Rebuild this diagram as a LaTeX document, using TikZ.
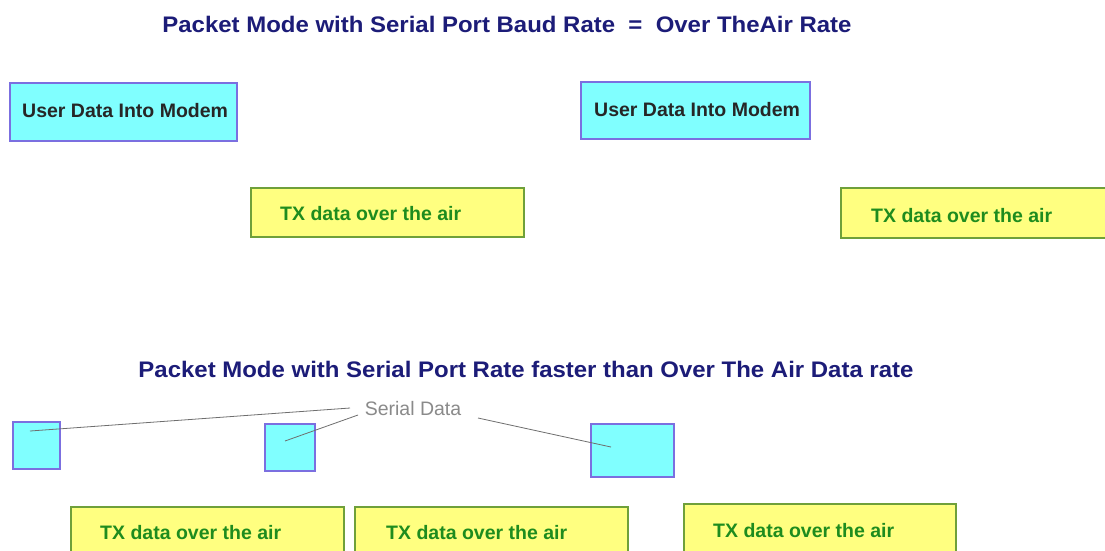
\documentclass[tikz,border=0pt]{standalone}
\usepackage{fontspec}
\setmainfont{Liberation Sans}
\definecolor{navy}{HTML}{1C1C78}
\definecolor{cyanfill}{HTML}{80FFFF}
\definecolor{cyanedge}{HTML}{7B6FE0}
\definecolor{yelfill}{HTML}{FFFF80}
\definecolor{yeledge}{HTML}{6FA03A}
\definecolor{txgreen}{HTML}{1E8C1E}
\definecolor{sergray}{HTML}{8A8A8A}
\begin{document}
\begin{tikzpicture}[x=1pt,y=-1pt,
  title/.style={font=\fontsize{22.5}{26}\selectfont\bfseries, text=navy, inner sep=0, xscale=1.065},
  userbox/.style={draw=cyanedge, fill=cyanfill, line width=1.2pt},
  txbox/.style={draw=yeledge, fill=yelfill, line width=1.2pt},
  usertext/.style={font=\fontsize{19.5}{22}\selectfont\bfseries, text=black!85, inner sep=0, anchor=west},
  txtext/.style={font=\fontsize{19.5}{22}\selectfont\bfseries, text=txgreen, inner sep=0, anchor=west},
  serline/.style={draw=sergray!80!black, line width=0.8pt}]
\useasboundingbox (0,0) rectangle (1105,550);
\fill[white] (0,0) rectangle (1105,550);
% top title
\node[title] (t1) at (507,24) {Packet Mode with Serial Port Baud Rate \ = \ Over TheAir Rate};
% top boxes
\draw[userbox] (10,83) rectangle (237,141);
\node[usertext] (u1) at (22,111) {User Data Into Modem};
\draw[userbox] (581,82) rectangle (810,139);
\node[usertext] (u2) at (594,110) {User Data Into Modem};
\draw[txbox] (251,188) rectangle (524,237);
\node[txtext] (x1) at (280,214) {TX data over the air};
\draw[txbox] (841,188) rectangle (1110,238);
\node[txtext] (x2) at (871,216) {TX data over the air};
% second title
\node[title] (t2) at (526,369) {Packet Mode with Serial Port Rate faster than Over The Air Data rate};
% small boxes
\draw[userbox] (13,422) rectangle (60,469);
\draw[userbox] (265,424) rectangle (315,471);
\draw[userbox] (591,424) rectangle (674,477);
\coordinate (e) at (30,431);
\coordinate (f) at (285,441);
\coordinate (g) at (611,447);
\node[font=\fontsize{19.5}{22}\selectfont, text=sergray, inner sep=0] (sd) at (413,409) {Serial Data};
\coordinate (sa) at (350,408);
\coordinate (sb) at (358,415);
\coordinate (sc) at (478,418);
\draw[serline] (e) -- (sa);
\draw[serline] (f) -- (sb);
\draw[serline] (sc) -- (g);
% bottom yellow boxes
\draw[txbox] (71,507) rectangle (344,560);
\node[txtext] (x3) at (100,533) {TX data over the air};
\draw[txbox] (355,507) rectangle (628,560);
\node[txtext] (x4) at (386,533) {TX data over the air};
\draw[txbox] (684,504) rectangle (956,560);
\node[txtext] (x5) at (713,531) {TX data over the air};
\end{tikzpicture}
\end{document}
